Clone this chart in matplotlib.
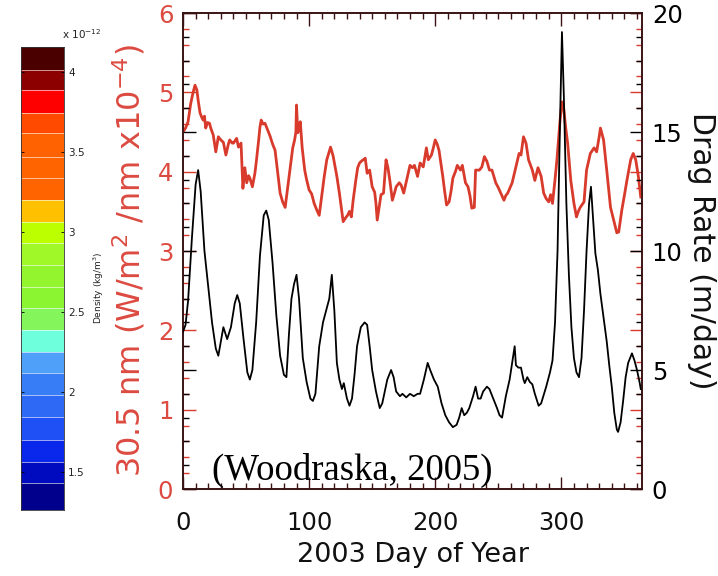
import numpy as np
import matplotlib
matplotlib.use("Agg")
import matplotlib.pyplot as plt
from matplotlib.colors import ListedColormap, BoundaryNorm
from matplotlib.ticker import MultipleLocator

# ---------------- data ----------------
drag_day = [0, 2, 4, 7, 10, 12, 14, 17, 20, 23, 26, 28, 30, 32, 35, 38, 41, 43, 45, 48,
            51, 53, 55, 58, 61, 64, 66, 68, 71, 74, 77, 80, 82, 84, 86, 88, 90, 92, 95, 98,
            101, 103, 105, 108, 111, 114, 116, 118, 120, 122, 124, 126, 127.5, 130, 132, 134,
            136, 138, 141, 144, 146, 148, 150, 153, 156, 158, 160, 162, 165, 167, 169, 172,
            174, 177, 180, 183, 186, 188, 191, 194, 196, 199, 202, 205, 208, 211, 214, 217,
            219, 221, 223, 225, 227, 230, 232, 234, 236, 238, 241, 243, 246, 249, 251, 253,
            256, 259, 261, 263, 264, 266, 268, 270, 271, 273, 275, 277, 279, 282, 284, 288,
            291, 293, 295, 297, 299, 300.5, 302, 304, 306, 308, 310, 312, 314, 316, 318, 320,
            322, 323.5, 325, 327, 329, 331, 334, 336, 338, 340, 342, 344, 345, 347, 349, 351,
            353, 356, 358, 360, 362, 363]
drag_rate = [6.6, 6.9, 7.9, 10.5, 12.8, 13.4, 12.5, 10.0, 8.5, 7.0, 5.9, 5.6, 6.2, 6.8, 6.3,
             6.8, 7.8, 8.15, 7.8, 6.3, 4.9, 4.6, 5.0, 7.0, 9.8, 11.5, 11.7, 11.3, 9.5, 7.3,
             5.6, 4.8, 4.7, 6.5, 8.0, 8.6, 9.0, 8.0, 5.5, 4.5, 3.8, 3.7, 4.0, 6.0, 7.0, 7.6,
             8.0, 9.0, 7.5, 5.3, 4.6, 4.2, 4.45, 3.8, 3.5, 3.8, 4.8, 6.0, 6.8, 7.0, 6.9, 6.0,
             5.0, 4.1, 3.4, 3.6, 4.1, 4.6, 5.0, 4.7, 4.1, 3.9, 4.0, 3.85, 4.0, 3.9, 4.0, 4.0,
             4.6, 5.3, 5.0, 4.6, 4.3, 3.6, 3.1, 2.8, 2.6, 2.7, 3.0, 3.4, 3.1, 3.2, 3.4, 3.9,
             4.3, 3.8, 3.8, 4.1, 4.3, 4.2, 3.8, 3.4, 3.1, 3.0, 3.9, 4.6, 5.3, 6.0, 5.2, 5.1,
             5.1, 4.6, 4.45, 4.7, 4.5, 4.4, 4.0, 3.5, 3.6, 4.3, 4.9, 5.4, 7.0, 10.0, 15.5,
             19.2, 16.5, 12.0, 9.0, 6.8, 5.5, 4.9, 4.7, 5.5, 7.5, 10.0, 12.0, 12.7, 11.5, 9.9,
             9.2, 8.2, 7.0, 6.2, 5.2, 4.3, 3.2, 2.5, 2.4, 2.8, 3.7, 4.7, 5.3, 5.7, 5.4, 5.0,
             4.5, 4.2]

euv_day = [0, 2, 4, 6, 8, 9.5, 11, 12, 13.5, 15, 16, 17, 18, 19.5, 21, 22, 24, 26, 28, 30,
           32, 34, 36, 37, 39, 40, 42.5, 44, 46, 47.5, 49, 50.5, 52, 53, 55, 57, 58, 60, 61,
           62, 63.5, 65, 67, 69, 71, 73, 75, 77, 79, 81, 83, 85, 87, 88.5, 89.5, 90, 91, 92,
           93, 94.5, 96.5, 98, 100, 102, 104, 106, 108, 110, 112, 114, 117, 119, 122, 124,
           125.5, 127, 129, 130.5, 132, 133.5, 135, 137, 138.5, 140, 142, 143, 144.5, 146,
           148, 150, 152, 153, 154, 155.5, 157, 159, 161, 162.5, 164, 166, 167.5, 169, 171.5,
           173, 175, 178, 180, 182, 183.5, 186, 188, 190.5, 193, 194.5, 197, 198.5, 200,
           201.5, 203, 206, 207.5, 209, 211, 212.5, 214, 216, 217.5, 220, 221.5, 223, 224,
           226, 227.5, 229, 231, 232, 235, 237, 239, 241, 243, 245, 248, 250, 252, 254.5,
           256, 257.5, 261, 264, 266.5, 268, 270, 272, 274, 277, 279, 281.5, 284, 286, 288,
           290, 291.5, 293, 295, 296.5, 299, 300.5, 302, 303.5, 305, 307.5, 310, 312, 313.5,
           315, 318, 320, 323, 326, 328, 330, 331, 333.5, 336, 339, 341.5, 344, 345.5, 348,
           350, 352, 355, 357, 359, 361, 363]
euv_flux = [4.50, 4.55, 4.63, 4.85, 5.00, 5.09, 5.03, 4.90, 4.74, 4.68, 4.65, 4.70, 4.55,
            4.62, 4.61, 4.55, 4.46, 4.25, 4.44, 4.40, 4.37, 4.21, 4.35, 4.40, 4.36, 4.36,
            4.42, 4.31, 4.36, 3.79, 4.05, 3.86, 3.95, 3.92, 3.81, 3.98, 4.11, 4.40, 4.56,
            4.65, 4.60, 4.61, 4.53, 4.45, 4.35, 4.27, 4.00, 3.73, 3.62, 3.55, 3.80, 4.06,
            4.30, 4.40, 4.50, 4.84, 4.49, 4.55, 4.63, 4.30, 4.02, 3.90, 3.77, 3.72, 3.60,
            3.52, 3.45, 3.70, 3.94, 4.15, 4.31, 4.20, 3.94, 3.73, 3.55, 3.37, 3.42, 3.45,
            3.50, 3.43, 3.65, 3.89, 4.05, 4.11, 4.14, 4.15, 4.17, 3.98, 4.02, 3.81, 3.74,
            3.60, 3.39, 3.55, 3.71, 3.73, 4.15, 4.05, 3.89, 3.64, 3.72, 3.81, 3.86, 3.83,
            3.73, 3.94, 4.08, 4.05, 4.08, 3.94, 4.11, 4.06, 4.30, 4.15, 4.21, 4.30, 4.40,
            4.35, 4.27, 3.94, 3.75, 3.58, 3.62, 3.75, 3.92, 4.00, 4.08, 4.02, 4.08, 3.95,
            3.86, 3.81, 3.70, 3.54, 3.55, 4.02, 4.02, 4.06, 4.19, 4.13, 4.02, 4.02, 3.86,
            3.80, 3.73, 3.64, 3.70, 3.73, 3.86, 4.06, 4.23, 4.21, 4.44, 4.36, 4.15, 4.02,
            3.89, 4.05, 3.94, 3.73, 3.66, 3.62, 3.71, 3.60, 3.90, 4.15, 4.65, 4.88, 4.78,
            4.55, 4.36, 3.89, 3.60, 3.43, 3.50, 3.55, 3.62, 4.02, 4.23, 4.30, 4.25, 4.44,
            4.55, 4.40, 4.02, 3.55, 3.39, 3.23, 3.24, 3.52, 3.70, 3.89, 4.15, 4.23, 4.15,
            3.95, 3.68]

cbar_bounds = [1.2625, 1.431, 1.5625, 1.70, 1.844, 1.981, 2.119, 2.25, 2.3875, 2.525,
               2.656, 2.794, 2.931, 3.0625, 3.20, 3.3375, 3.469, 3.619, 3.744, 3.8875,
               4.0125, 4.156]
cbar_colors = ['#00008c', '#000abe', '#0a28eb', '#1e50f5', '#2d69f5', '#377df5', '#4fa0f8',
               '#6effdc', '#84f55a', '#8cf532', '#93f52d', '#a0f828', '#bbff00', '#ffc000',
               '#ff6400', '#ff6400', '#ff6200', '#ff4a00', '#ff0000', '#8c0000', '#4b0000']
cbar_ticks = [1.5, 2, 2.5, 3, 3.5, 4]
cbar_ticklabels = ['1.5', '2', '2.5', '3', '3.5', '4']

x_ticks = [0, 100, 200, 300]
red_ticks = [0, 1, 2, 3, 4, 5, 6]
drag_ticks = [0, 5, 10, 15, 20]

RED = '#d83a2c'
RED_TXT = '#dc4a40'
SPINE = '#3a1414'

fig = plt.figure(figsize=(7.18, 5.76), dpi=100)

# ---------------- colorbar ----------------
cax = fig.add_axes([0.0292, 0.1146, 0.0599, 0.8038])
cmap = ListedColormap(cbar_colors)
norm = BoundaryNorm(cbar_bounds, cmap.N)
yy = np.array(cbar_bounds)
cax.pcolormesh([0, 1], yy, np.array(cbar_bounds[:-1]).reshape(-1, 1) + 1e-6,
               cmap=cmap, norm=norm, shading='flat')
for b in cbar_bounds[1:-1]:
    cax.axhline(b, color='white', lw=0.7, alpha=0.6)
cax.set_xlim(0, 1)
cax.set_ylim(cbar_bounds[0], cbar_bounds[-1])
cax.set_xticks([])
cax.set_yticks(cbar_ticks)
cax.set_yticklabels(cbar_ticklabels, fontsize=7.5, color='#222222')
cax.yaxis.tick_right()
cax.tick_params(axis='y', direction='in', length=2, width=0.6, pad=3,
                left=True, right=True)
for s in cax.spines.values():
    s.set_color('#333333')
    s.set_linewidth(0.6)
fig.text(0.086, 0.940, 'x 10$^{-12}$', fontsize=7.5, color='#222222', ha='left', va='center')
fig.text(0.138, 0.50, 'Density (kg/m$^3$)', fontsize=6.5, rotation=90, ha='center',
         va='center', color='#222222')

# ---------------- main axes ----------------
ax = fig.add_axes([0.2549, 0.151, 0.6393, 0.8264])
ax2 = ax.twinx()

ax.plot(euv_day, euv_flux, color=RED, lw=2.0, zorder=3)
ax2.plot(drag_day, drag_rate, color='black', lw=1.3, zorder=3)

ax.set_xlim(0, 364)
ax.set_ylim(0, 6)
ax2.set_ylim(0, 20)

ax.set_xticks(x_ticks)
ax.xaxis.set_minor_locator(MultipleLocator(10))
ax.tick_params(axis='x', which='both', direction='in', top=True, bottom=True,
               colors=SPINE, labelcolor='#111111', labelsize=17.5, pad=16)
ax.tick_params(axis='x', which='major', length=9, width=1.0)
ax.tick_params(axis='x', which='minor', length=4, width=1.0)

ax.set_yticks(red_ticks)
ax.yaxis.set_minor_locator(MultipleLocator(0.2))
ax.tick_params(axis='y', which='both', direction='in', left=True, right=True,
               colors=RED, labelcolor=RED_TXT, labelsize=17.5, pad=7)
ax.tick_params(axis='y', which='major', length=9, width=1.0)
ax.tick_params(axis='y', which='minor', length=4, width=1.0)

ax2.set_yticks(drag_ticks)
ax2.yaxis.set_minor_locator(MultipleLocator(1))
ax2.tick_params(axis='y', which='both', direction='in', left=True, right=True,
                labelleft=False, labelright=True, colors='black', labelsize=17.5, pad=7)
ax2.tick_params(axis='y', which='major', length=9, width=1.0)
ax2.tick_params(axis='y', which='minor', length=4, width=1.0)

for a in (ax, ax2):
    for s in a.spines.values():
        s.set_color(SPINE)
        s.set_linewidth(1.2)

ax.set_xlabel('2003 Day of Year', fontsize=19.5, color='#111111', labelpad=5)
ax.set_ylabel('30.5 nm (W/m$^2$ /nm x10$^{-4}$)', fontsize=23, color=RED_TXT, labelpad=1)
ax.yaxis.set_label_coords(-0.077, 0.48)
ax2.set_ylabel('Drag Rate (m/day)', fontsize=21.5, color='#111111', rotation=270, labelpad=24)

ax.text(23, 0.11, '(Woodraska, 2005)', fontsize=26.5, family='Liberation Serif',
        color='black', ha='left', va='baseline', zorder=5)

fig.savefig('out.png', dpi=100)
